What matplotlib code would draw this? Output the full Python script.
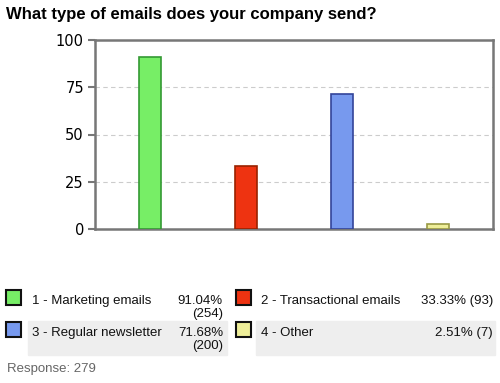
import matplotlib
matplotlib.use("Agg")
import matplotlib.pyplot as plt
from matplotlib.patches import Rectangle

# data
categories = ["1 - Marketing emails", "2 - Transactional emails",
              "3 - Regular newsletter", "4 - Other"]
percents = [91.04, 33.33, 71.68, 2.51]
counts = [254, 93, 200, 7]
responses = 279
yticks = [0, 25, 50, 75, 100]

face_colors = ["#77EE66", "#EE3311", "#7799EE", "#EEEE99"]
edge_colors = ["#339933", "#992200", "#334499", "#999944"]

W, H = 500, 383
fig = plt.figure(figsize=(W / 100, H / 100), dpi=100)


def fx(px):
    return px / W


def fy(py):
    return 1 - py / H


# title
fig.text(fx(6), fy(14), "What type of emails does your company send?",
         family="Liberation Sans", weight="bold", fontsize=12, va="center")

# bar chart
ax = fig.add_axes([fx(95), fy(229), fx(398), (229 - 40) / H])
x = range(len(categories))
ax.bar(x, percents, width=0.22, color=face_colors, edgecolor=edge_colors,
       linewidth=1.2, zorder=3)
ax.set_xlim(-0.573, 3.573)
ax.set_ylim(0, 100)
ax.set_yticks(yticks)
ax.set_xticks([])
ax.tick_params(axis="y", length=5, width=1.5, color="#777777",
               labelsize=10.5, pad=3)
for s in ax.spines.values():
    s.set_color("#777777")
    s.set_linewidth(1.8)
ax.grid(axis="y", color="#cccccc", linestyle=(0, (4, 3)), linewidth=0.8,
        zorder=0)

# legend table
cols = [(6, 32, 223), (236, 261, 493)]
rows = [(297, 301), (329, 333)]
lab_font = dict(family="Liberation Sans", fontsize=9.5, color="#111111")

# shaded second row
fig.patches.append(Rectangle((fx(28), fy(355)), fx(199), (355 - 321) / H,
                             transform=fig.transFigure, color="#eeeeee",
                             zorder=0))
fig.patches.append(Rectangle((fx(256), fy(355)), fx(239), (355 - 321) / H,
                             transform=fig.transFigure, color="#eeeeee",
                             zorder=0))

for i, name in enumerate(categories):
    r, c = divmod(i, 2)
    mx, tx, rx = cols[c]
    my, ty = rows[r]
    fig.patches.append(Rectangle((fx(mx), fy(my + 7.5)), fx(15), 15 / H,
                                 transform=fig.transFigure,
                                 facecolor=face_colors[i], edgecolor="#111111",
                                 linewidth=1.5, zorder=2))
    fig.text(fx(tx), fy(ty), name, va="center", **lab_font)
    if c == 0:
        fig.text(fx(rx), fy(ty), f"{percents[i]:.2f}%", va="center",
                 ha="right", **lab_font)
        fig.text(fx(rx), fy(ty + 13), f"({counts[i]})", va="center",
                 ha="right", **lab_font)
    else:
        fig.text(fx(rx), fy(ty), f"{percents[i]:.2f}% ({counts[i]})",
                 va="center", ha="right", **lab_font)

fig.text(fx(7), fy(369), f"Response: {responses}", va="center",
         family="Liberation Sans", fontsize=9.5, color="#666666")

fig.savefig("out.png", dpi=100)
